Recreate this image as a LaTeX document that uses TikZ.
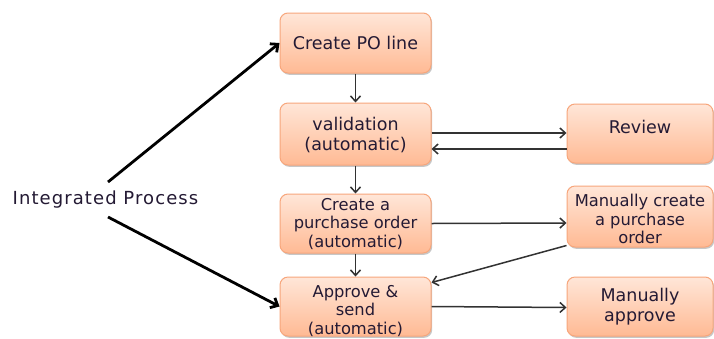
\documentclass[tikz,border=0pt]{standalone}
\usepackage{fontspec}
\setmainfont{DejaVu Sans}
\newfontfamily\ipfont[LetterSpace=6]{DejaVu Sans}
\usetikzlibrary{arrows.meta,shadows}
\definecolor{boxtop}{RGB}{255,230,216}
\definecolor{boxbot}{RGB}{255,186,148}
\definecolor{boxline}{RGB}{247,166,124}
\definecolor{txtcol}{RGB}{36,26,52}
\definecolor{linecol}{RGB}{50,50,50}
\tikzset{
  procbox/.style={draw=boxline, line width=1pt, rounded corners=8pt,
    top color=boxtop, bottom color=boxbot, minimum width=151pt,
    drop shadow={shadow xshift=1.2pt, shadow yshift=-1.8pt, opacity=0.22, fill=black}},
  sidebox/.style={procbox, minimum width=146pt},
  bigtxt/.style={text=txtcol, align=center, font=\fontsize{17.5}{20}\selectfont, inner sep=0pt},
  smalltxt/.style={text=txtcol, align=center, font=\fontsize{16.3}{18.8}\selectfont, inner sep=0pt},
  flow/.style={draw=linecol, line width=1.5pt, -{Straight Barb[length=5.5pt,width=10pt]}},
  bigflow/.style={draw=black, line width=2.8pt, -{Straight Barb[length=6pt,width=11pt]}}
}
\begin{document}
\begin{tikzpicture}[x=1pt,y=-1pt]
\useasboundingbox[fill=white] (0,0) rectangle (714,338);
% boxes
\node[procbox, minimum height=60pt] (b1) at (355.5,43) {};
\node[procbox, minimum height=62pt] (b2) at (355.5,134) {};
\node[procbox, minimum height=59pt] (b3) at (355.5,223.5) {};
\node[procbox, minimum height=59pt] (b4) at (355.5,306.5) {};
\node[sidebox, minimum height=59pt] (rv) at (640,133.5) {};
\node[sidebox, minimum height=61pt] (mc) at (640,216.5) {};
\node[sidebox, minimum height=59pt] (ma) at (640,306.5) {};
% texts
\node[bigtxt] (b1t) at (355.5,43) {Create PO line};
\node[bigtxt] (b2t) at (355.5,135) {validation\\(automatic)};
\node[smalltxt] (b3t) at (355.5,224) {Create a\\purchase order\\(automatic)};
\node[smalltxt] (b4t) at (355.5,311) {Approve \&\\send\\(automatic)};
\node[bigtxt] (rvt) at (640,127) {Review};
\node[smalltxt] (mct) at (640,219) {Manually create\\a purchase\\order};
\node[bigtxt] (mat) at (640,307) {Manually\\approve};
\node[text=txtcol, font=\ipfont\fontsize{18}{20}\selectfont, inner sep=0pt] (ip) at (105.5,200) {Integrated Process};
% connectors
\coordinate (ipA) at (108,182);
\coordinate (ipB) at (108,217);
\draw[bigflow] (ipA) -- (b1.west);
\draw[bigflow] (ipB) -- (b4.west);
\draw[flow] (b1) -- (b2);
\draw[flow] (b2) -- (b3);
\draw[flow] (b3) -- (b4);
\draw[flow] ([yshift=1pt]b2.east) -- ([yshift=0.5pt]rv.west);
\draw[flow] ([yshift=-15.5pt]rv.west) -- ([yshift=-15pt]b2.east);
\draw[flow] (b3.east) -- ([yshift=-6.5pt]mc.west);
\draw[flow] ([yshift=2pt]mc.south west) -- ([yshift=-6pt]b4.north east);
\draw[flow] (b4.east) -- ([yshift=-1pt]ma.west);
\end{tikzpicture}
\end{document}
